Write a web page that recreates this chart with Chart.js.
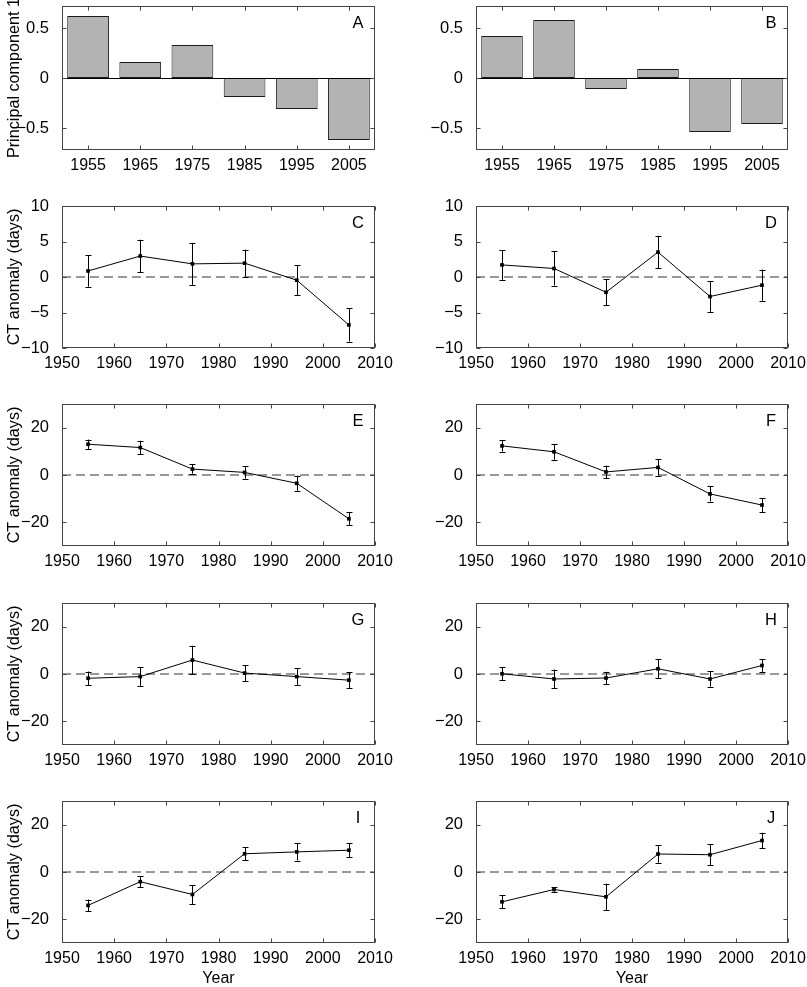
<!DOCTYPE html>
<html>
<head>
<meta charset="utf-8">
<script src="https://cdn.jsdelivr.net/npm/chart.js@4.4.1/dist/chart.umd.min.js"></script>
<style>
  html, body { margin: 0; padding: 0; background: #fff; }
  body { position: relative; width: 807px; height: 987px; overflow: hidden; }
  canvas { position: absolute; }
</style>
</head>
<body>
<script>
// ---- data ----
const years = [1955, 1965, 1975, 1985, 1995, 2005];
const yearLabels = ["1955", "1965", "1975", "1985", "1995", "2005"];

const pcA = [0.62, 0.16, 0.33, -0.19, -0.31, -0.62];
const pcB = [0.42, 0.58, -0.11, 0.09, -0.54, -0.46];

const ctC = [0.85, 2.95, 1.85, 1.95, -0.45, -6.75];
const errC = [2.2, 2.3, 2.95, 1.9, 2.1, 2.35];
const ctD = [1.7, 1.2, -2.15, 3.5, -2.75, -1.15];
const errD = [2.1, 2.4, 1.85, 2.3, 2.15, 2.2];
const ctE = [13.0, 11.6, 2.5, 1.1, -3.5, -18.5];
const errE = [2.0, 2.85, 1.95, 2.6, 3.2, 2.8];
const ctF = [12.3, 9.8, 1.3, 3.2, -8.0, -12.7];
const errF = [2.4, 3.35, 2.65, 3.45, 3.2, 2.95];
const ctG = [-1.8, -1.1, 5.9, 0.4, -1.1, -2.6];
const errG = [2.85, 3.9, 6.05, 3.35, 3.5, 3.3];
const ctH = [0.1, -2.1, -1.7, 2.2, -2.1, 3.6];
const errH = [2.65, 4.0, 2.6, 4.05, 3.2, 2.7];
const ctI = [-14.1, -4.1, -9.5, 7.7, 8.5, 9.2];
const errI = [2.45, 2.35, 4.0, 2.8, 3.65, 2.85];
const ctJ = [-12.6, -7.4, -10.5, 7.6, 7.3, 13.3];
const errJ = [2.8, 0.9, 5.55, 3.7, 4.5, 3.3];

const xTicks = [1950, 1960, 1970, 1980, 1990, 2000, 2010];
const pcTicks = [-0.5, 0, 0.5];
const ctTicksSmall = [-10, -5, 0, 5, 10];
const ctTicks = [-20, 0, 20];

// ---- layout (page pixels) ----
const cols = [
  { x0: 0, w: 400, left: 62, right: 375 },
  { x0: 400, w: 407, left: 476, right: 788 },
];
const rows = [
  { top: 6, bottom: 150 },
  { top: 206, bottom: 348 },
  { top: 404, bottom: 546 },
  { top: 603, bottom: 745 },
  { top: 801, bottom: 943 },
];

Chart.defaults.font.family = '"Liberation Sans", Arial, Helvetica, sans-serif';
Chart.defaults.font.size = 16;
Chart.defaults.color = "#000";

const minus = (v) => String(v).replace("-", "\u2212");

// frame, inward ticks, baseline, error bars and panel letter (MATLAB look)
const matlabAxes = {
  id: "matlabAxes",
  afterDatasetsDraw(chart, args, opts) {
    const { ctx, chartArea: a, scales } = chart;
    const x = scales.x, y = scales.y;
    ctx.save();

    // error bars
    chart.data.datasets.forEach((ds) => {
      if (!ds.err) return;
      ctx.strokeStyle = "#000";
      ctx.lineWidth = 1;
      ds.data.forEach((p, j) => {
        const px = Math.round(x.getPixelForValue(p.x)) + 0.5;
        const lo = y.getPixelForValue(p.y - ds.err[j]);
        const hi = y.getPixelForValue(p.y + ds.err[j]);
        ctx.beginPath();
        ctx.moveTo(px, lo); ctx.lineTo(px, hi);
        ctx.moveTo(px - 3, Math.round(lo) + 0.5); ctx.lineTo(px + 3, Math.round(lo) + 0.5);
        ctx.moveTo(px - 3, Math.round(hi) + 0.5); ctx.lineTo(px + 3, Math.round(hi) + 0.5);
        ctx.stroke();
      });
    });

    // zero baseline for bar panels
    if (opts.baseline) {
      const y0 = Math.round(y.getPixelForValue(0)) + 0.5;
      ctx.strokeStyle = "#000";
      ctx.lineWidth = 1;
      ctx.beginPath();
      ctx.moveTo(a.left, y0); ctx.lineTo(a.right, y0);
      ctx.stroke();
    }

    // box + ticks
    const L = Math.round(a.left) + 0.5, R = Math.round(a.right) - 0.5;
    const T = Math.round(a.top) + 0.5, B = Math.round(a.bottom) - 0.5;
    ctx.strokeStyle = "#444";
    ctx.lineWidth = 1;
    ctx.strokeRect(L, T, R - L, B - T);
    ctx.beginPath();
    x.ticks.forEach((t, i) => {
      const px = Math.round(x.getPixelForTick(i)) + 0.5;
      ctx.moveTo(px, B); ctx.lineTo(px, B - 4);
      ctx.moveTo(px, T); ctx.lineTo(px, T + 4);
    });
    y.ticks.forEach((t, i) => {
      const py = Math.round(y.getPixelForTick(i)) + 0.5;
      ctx.moveTo(L, py); ctx.lineTo(L + 4, py);
      ctx.moveTo(R, py); ctx.lineTo(R - 4, py);
    });
    ctx.stroke();

    // panel letter
    if (opts.letter) {
      ctx.fillStyle = "#000";
      ctx.font = '16.5px "Liberation Sans", Arial, sans-serif';
      ctx.textAlign = "center";
      ctx.textBaseline = "middle";
      ctx.fillText(opts.letter, a.right - 17, a.top + 17);
    }
    ctx.restore();
  },
};

function makePanel(p) {
  const col = cols[p.col], row = rows[p.row];
  const padTop = 20;
  const axisH = p.xTitle ? 49 : 40;
  const canvas = document.createElement("canvas");
  const h = padTop + (row.bottom - row.top) + axisH;
  canvas.width = col.w;
  canvas.height = h;
  canvas.style.left = col.x0 + "px";
  canvas.style.top = (row.top - padTop) + "px";
  canvas.style.width = col.w + "px";
  canvas.style.height = h + "px";
  document.body.appendChild(canvas);

  const isBar = p.kind === "bar";
  const yAxisW = col.left - col.x0;
  const datasets = [];
  if (isBar) {
    datasets.push({
      type: "bar",
      data: p.values,
      backgroundColor: "#b3b3b3",
      borderColor: "#1a1a1a",
      borderWidth: 1,
      borderSkipped: false,
      barPercentage: 0.8,
      categoryPercentage: 1.0,
    });
  } else {
    datasets.push({
      type: "line",
      data: years.map((yr, i) => ({ x: yr, y: p.values[i] })),
      err: p.err,
      borderColor: "#000",
      borderWidth: 1,
      pointStyle: "rect",
      pointRadius: 2.6,
      pointBackgroundColor: "#000",
      pointBorderWidth: 0,
      tension: 0,
      order: 1,
    });
    datasets.push({
      type: "line",
      data: [{ x: xTicks[0], y: 0 }, { x: xTicks[xTicks.length - 1], y: 0 }],
      borderColor: "#333",
      borderWidth: 1,
      borderDash: [9, 5],
      pointRadius: 0,
      order: 2,
    });
  }

  new Chart(canvas, {
    type: isBar ? "bar" : "line",
    data: { labels: isBar ? yearLabels : undefined, datasets },
    options: {
      responsive: false,
      animation: false,
      devicePixelRatio: 1,
      layout: { padding: { left: 0, top: padTop, right: col.x0 + col.w - col.right, bottom: 0 } },
      plugins: {
        legend: { display: false },
        tooltip: { enabled: false },
        matlabAxes: { letter: p.letter, baseline: isBar },
      },
      scales: {
        x: {
          type: isBar ? "category" : "linear",
          min: isBar ? undefined : xTicks[0],
          max: isBar ? undefined : xTicks[xTicks.length - 1],
          offset: isBar,
          grid: { display: false },
          border: { display: false },
          afterBuildTicks: isBar ? undefined : (s) => { s.ticks = xTicks.map((v) => ({ value: v })); },
          ticks: {
            padding: -2,
            maxRotation: 0,
            autoSkip: false,
            font: { size: 16 },
            callback: isBar ? function (v, i) { return yearLabels[i]; } : (v) => String(v),
          },
          title: { display: !!p.xTitle, text: p.xTitle || "", font: { size: 16 }, padding: { top: 0, bottom: 4 } },
          afterFit: (s) => { s.height = axisH; s.paddingLeft = 0; s.paddingRight = 0; },
        },
        y: {
          min: p.yMin,
          max: p.yMax,
          grid: { display: false },
          border: { display: false },
          afterBuildTicks: (s) => { s.ticks = p.yTicks.map((v) => ({ value: v })); },
          ticks: { padding: 5, font: { size: 16.5 }, callback: (v) => minus(v) },
          title: { display: !!p.yTitle, text: p.yTitle || "", font: { size: 16.2 }, padding: { top: 5, bottom: 0 } },
          afterFit: (s) => { s.width = yAxisW; s.paddingTop = 0; s.paddingBottom = 0; },
        },
      },
    },
    plugins: [matlabAxes],
  });
}

const ctLabel = "CT anomaly (days)";
const panels = [
  { letter: "A", kind: "bar", values: pcA, row: 0, col: 0, yMin: -0.72, yMax: 0.72, yTicks: pcTicks, yTitle: "Principal component 1" },
  { letter: "B", kind: "bar", values: pcB, row: 0, col: 1, yMin: -0.72, yMax: 0.72, yTicks: pcTicks },
  { letter: "C", values: ctC, err: errC, row: 1, col: 0, yMin: -10, yMax: 10, yTicks: ctTicksSmall, yTitle: ctLabel },
  { letter: "D", values: ctD, err: errD, row: 1, col: 1, yMin: -10, yMax: 10, yTicks: ctTicksSmall },
  { letter: "E", values: ctE, err: errE, row: 2, col: 0, yMin: -30, yMax: 30, yTicks: ctTicks, yTitle: ctLabel },
  { letter: "F", values: ctF, err: errF, row: 2, col: 1, yMin: -30, yMax: 30, yTicks: ctTicks },
  { letter: "G", values: ctG, err: errG, row: 3, col: 0, yMin: -30, yMax: 30, yTicks: ctTicks, yTitle: ctLabel },
  { letter: "H", values: ctH, err: errH, row: 3, col: 1, yMin: -30, yMax: 30, yTicks: ctTicks },
  { letter: "I", values: ctI, err: errI, row: 4, col: 0, yMin: -30, yMax: 30, yTicks: ctTicks, yTitle: ctLabel, xTitle: "Year" },
  { letter: "J", values: ctJ, err: errJ, row: 4, col: 1, yMin: -30, yMax: 30, yTicks: ctTicks, xTitle: "Year" },
];

panels.forEach(makePanel);
</script>
</body>
</html>
